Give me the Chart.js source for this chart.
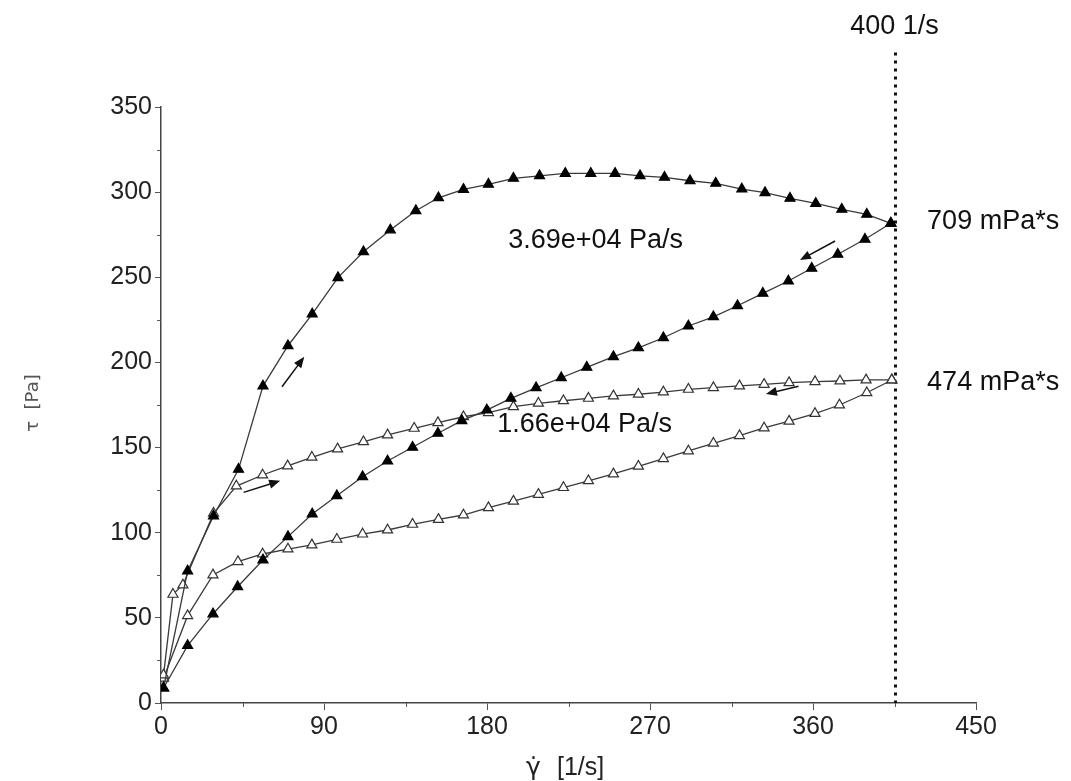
<!DOCTYPE html>
<html>
<head>
<meta charset="utf-8">
<script src="https://cdn.jsdelivr.net/npm/chart.js@4.4.1/dist/chart.umd.min.js"></script>
<style>
  body { margin: 0; background: #fff; }
  canvas { display: block; }
</style>
</head>
<body>
<canvas id="flowCurve" width="1071" height="781"></canvas>
<script>
// shear rate [1/s] / shear stress [Pa], sample A (filled) and sample B (open)
const aUpRate = [1.4, 14.7, 29.0, 42.8, 56.3, 70.1, 83.5, 97.7, 111.8, 126.6, 140.7, 153.2, 167.0, 180.8, 194.6,
  209.0, 223.2, 237.3, 250.7, 264.5, 278.0, 292.1, 306.3, 320.7, 333.5, 347.3, 361.5, 375.9, 389.7, 403.0];
const aUpStress = [8.8, 77.5, 109.8, 137.2, 186.1, 209.8, 228.4, 249.8, 265.0, 277.8, 289.1, 296.7, 301.6, 304.6, 308.1,
  309.6, 311.0, 311.0, 311.0, 309.6, 308.7, 306.7, 305.2, 301.8, 299.7, 296.4, 293.4, 289.9, 287.0, 281.7];

const aDownRate = [403.0, 388.7, 373.7, 359.3, 346.4, 332.3, 318.3, 305.0, 291.2, 277.4, 263.6, 249.8, 235.1, 221.0, 207.1,
  193.2, 179.9, 166.1, 152.9, 138.9, 125.1, 111.3, 97.1, 83.5, 70.1, 56.3, 42.3, 28.7, 14.7, 1.4];
const aDownStress = [281.7, 272.3, 263.5, 255.3, 247.8, 240.6, 233.3, 226.8, 221.4, 214.5, 208.6, 203.4, 197.1, 191.0, 185.1,
  178.9, 172.0, 165.8, 158.4, 150.2, 142.1, 132.9, 121.7, 111.0, 97.7, 84.0, 68.3, 52.3, 33.7, 8.8];

const bUpRate = [1.4, 6.6, 12.1, 29.0, 41.6, 56.1, 69.9, 83.3, 97.5, 111.8, 125.1, 139.8, 152.9, 167.0, 180.8,
  194.6, 208.4, 222.2, 236.0, 249.8, 263.6, 277.4, 291.2, 305.0, 319.4, 333.0, 346.8, 361.1, 374.9, 389.3, 403.5];
const bUpStress = [16.4, 63.8, 69.3, 111.4, 127.4, 133.9, 139.2, 144.3, 149.2, 153.4, 157.4, 161.3, 164.6, 168.1, 170.5,
  174.0, 176.0, 177.5, 178.9, 180.3, 181.3, 182.6, 184.2, 185.2, 186.2, 187.1, 188.1, 188.7, 189.1, 189.7, 189.7];

const bDownRate = [403.5, 389.7, 374.6, 361.1, 346.8, 333.0, 319.4, 305.0, 291.2, 277.4, 263.6, 249.8, 236.0, 222.2, 208.4,
  194.6, 180.8, 167.0, 153.2, 138.9, 125.1, 111.3, 97.1, 83.3, 70.1, 56.1, 42.5, 28.7, 14.7, 1.4];
const bDownStress = [189.7, 182.2, 175.0, 170.0, 165.5, 161.5, 157.0, 152.5, 148.0, 143.5, 139.0, 134.5, 130.5, 126.5, 122.5,
  118.5, 114.7, 110.4, 107.8, 104.9, 101.6, 99.2, 96.1, 92.8, 90.4, 87.5, 83.0, 75.2, 51.3, 14.5];

const xTicks = [0, 90, 180, 270, 360, 450];
const yTicks = [0, 50, 100, 150, 200, 250, 300, 350];

const endRate = 405;          // dotted marker at the end of the ramp
const endLabel = '400 1/s';
const viscA = '709 mPa*s';
const viscB = '474 mPa*s';
const slopeA = '3.69e+04 Pa/s';
const slopeB = '1.66e+04 Pa/s';

const FONT = '"Liberation Sans", Arial, sans-serif';

function pts(xs, ys) {
  return xs.map((v, i) => ({x: v, y: ys[i]}));
}

function series(xs, ys, filled) {
  return {
    data: pts(xs, ys),
    showLine: true,
    borderColor: '#3a3a3a',
    borderWidth: 1.3,
    pointStyle: 'triangle',
    pointRadius: 5.8,
    pointBorderWidth: 1.2,
    pointBorderColor: filled ? '#000' : '#333',
    pointBackgroundColor: filled ? '#000' : '#fff',
    tension: 0,
  };
}

function arrow(ctx, x0, y0, x1, y1) {
  const a = Math.atan2(y1 - y0, x1 - x0);
  const len = 11, half = 4.5;
  ctx.beginPath();
  ctx.moveTo(x0, y0);
  ctx.lineTo(x1 - Math.cos(a) * len * 0.8, y1 - Math.sin(a) * len * 0.8);
  ctx.stroke();
  ctx.beginPath();
  ctx.moveTo(x1, y1);
  ctx.lineTo(x1 - Math.cos(a) * len - Math.sin(a) * half, y1 - Math.sin(a) * len + Math.cos(a) * half);
  ctx.lineTo(x1 - Math.cos(a) * len + Math.sin(a) * half, y1 - Math.sin(a) * len - Math.cos(a) * half);
  ctx.closePath();
  ctx.fill();
}

// direction arrows, in data units: [fromRate, fromStress, toRate, toStress]
const arrows = [
  [66.8, 185.7, 79.1, 203.3],
  [372.2, 271.3, 352.8, 260.1],
  [45.6, 123.7, 65.8, 130.5],
  [352, 186, 334, 181.5],
];

const overlay = {
  id: 'overlay',
  beforeDatasetsDraw(chart) {
    const {ctx, scales: {x, y}} = chart;
    const px = Math.round(x.getPixelForValue(endRate)) + 0.5;
    ctx.save();
    ctx.strokeStyle = '#111';
    ctx.lineWidth = 3;
    ctx.setLineDash([3, 5]);
    ctx.beginPath();
    ctx.moveTo(px, y.getPixelForValue(382));
    ctx.lineTo(px, y.getPixelForValue(0));
    ctx.stroke();
    ctx.restore();
  },
  afterDraw(chart) {
    const {ctx, scales: {x, y}} = chart;
    ctx.save();

    // minor ticks
    ctx.strokeStyle = '#555';
    ctx.lineWidth = 1;
    ctx.beginPath();
    for (let v = 45; v < 450; v += 90) {
      const px = Math.round(x.getPixelForValue(v)) + 0.5;
      ctx.moveTo(px, y.bottom);
      ctx.lineTo(px, y.bottom + 4);
    }
    for (let v = 25; v < 350; v += 50) {
      const py = Math.round(y.getPixelForValue(v)) + 0.5;
      ctx.moveTo(x.left, py);
      ctx.lineTo(x.left - 4, py);
    }
    ctx.stroke();

    // direction arrows
    ctx.strokeStyle = '#111';
    ctx.fillStyle = '#111';
    ctx.lineWidth = 1.5;
    arrows.forEach(([r0, s0, r1, s1]) => {
      arrow(ctx, x.getPixelForValue(r0), y.getPixelForValue(s0),
            x.getPixelForValue(r1), y.getPixelForValue(s1));
    });

    // annotations
    ctx.fillStyle = '#111';
    ctx.font = '27px ' + FONT;
    ctx.textBaseline = 'middle';
    ctx.textAlign = 'left';
    ctx.fillText(slopeA, x.getPixelForValue(191.7), y.getPixelForValue(271.4));
    ctx.fillText(slopeB, x.getPixelForValue(185.6), y.getPixelForValue(163.5));
    ctx.fillText(viscA, x.getPixelForValue(423), y.getPixelForValue(282.6));
    ctx.fillText(viscB, x.getPixelForValue(423), y.getPixelForValue(187.9));
    ctx.textAlign = 'center';
    ctx.fillText(endLabel, x.getPixelForValue(endRate), 27);

    // axis titles
    ctx.fillStyle = '#222';
    ctx.textAlign = 'left';
    ctx.font = '25px "DejaVu Sans", sans-serif';
    ctx.fillText('\u03B3\u0307', 526, 768);
    ctx.font = '25px ' + FONT;
    ctx.fillText('[1/s]', 557, 768);
    ctx.textAlign = 'center';
    ctx.translate(33, 403);
    ctx.rotate(-Math.PI / 2);
    ctx.fillStyle = '#555';
    ctx.font = '18px "DejaVu Sans", sans-serif';
    ctx.fillText('\u03C4  [Pa]', 0, 0);
    ctx.restore();
  }
};

const tickFont = {family: FONT, size: 25};

new Chart(document.getElementById('flowCurve'), {
  type: 'scatter',
  data: {
    datasets: [
      series(aUpRate, aUpStress, true),
      series(aDownRate, aDownStress, true),
      series(bUpRate, bUpStress, false),
      series(bDownRate, bDownStress, false),
    ]
  },
  options: {
    responsive: false,
    animation: false,
    layout: {padding: {top: 107, right: 95, left: 0, bottom: 0}},
    plugins: {legend: {display: false}, tooltip: {enabled: false}},
    scales: {
      x: {
        type: 'linear', min: 0, max: 450,
        afterFit: (s) => { s.height = 78; },
        afterBuildTicks: (s) => { s.ticks = xTicks.map(v => ({value: v})); },
        ticks: {color: '#222', font: tickFont, padding: 2, maxRotation: 0},
        grid: {drawOnChartArea: false, tickLength: 7, color: '#555'},
        border: {color: '#444', width: 1.5},
      },
      y: {
        type: 'linear', min: 0, max: 350,
        afterFit: (s) => { s.width = 161; },
        afterBuildTicks: (s) => { s.ticks = yTicks.map(v => ({value: v})); },
        ticks: {color: '#222', font: tickFont, padding: 3},
        grid: {drawOnChartArea: false, tickLength: 6, color: '#555'},
        border: {color: '#444', width: 1.5},
      }
    }
  },
  plugins: [overlay]
});
</script>
</body>
</html>
